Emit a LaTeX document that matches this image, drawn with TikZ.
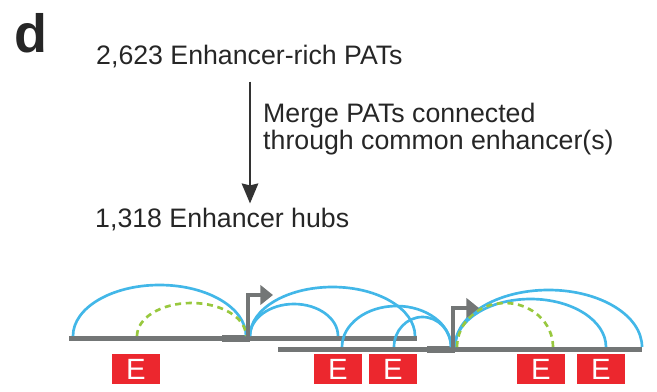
\documentclass[tikz,border=0pt]{standalone}
\usepackage{fontspec}
\setmainfont{Liberation Sans}
\usepackage{xcolor}
\usetikzlibrary{arrows.meta}

\definecolor{hubgray}{RGB}{115,118,118}
\definecolor{loopblue}{RGB}{66,183,232}
\definecolor{ghostgreen}{RGB}{152,200,62}
\definecolor{enhred}{RGB}{236,39,46}

\begin{document}
\begin{tikzpicture}[x=0.03cm,y=-0.03cm,
  txt/.style={inner sep=0pt,anchor=base west,text=black!85,font=\fontsize{22.8}{26}\selectfont},
  ebox/.style={fill=enhred,text=white,minimum width=1.44cm,minimum height=0.9cm,inner sep=0pt,font=\fontsize{25}{25}\selectfont},
  track/.style={hubgray,line width=0.15cm},
  loop/.style={loopblue,line width=0.08cm},
  ghost/.style={ghostgreen,line width=0.08cm,dash pattern=on 0.18cm off 0.14cm},
  tss/.style={hubgray,line width=0.13cm,-{Triangle[length=0.38cm,width=0.58cm]}}]
  % Panel (d): merging PATs into enhancer hubs.
  \useasboundingbox (0,0) rectangle (657,391);

  \node[txt,font=\fontsize{46}{46}\selectfont\bfseries] (panel) at (14,52) {d};
  \node[txt] (rich)   at (96,64)  {2,623 Enhancer-rich PATs};
  \node[txt] (merge1) at (263,122) {Merge PATs connected};
  \node[txt] (merge2) at (263,149) {through common enhancer(s)};
  \node[txt] (hubs)   at (95,227) {1,318 Enhancer hubs};

  \coordinate (ax) at (250,0);
  \draw[line width=0.045cm,black!80,-{Stealth[length=0.6cm,width=0.5cm,inset=0.06cm]},
        shorten <=0.42cm,shorten >=0.12cm] (rich.south -| ax) -- (hubs.north -| ax);

  % two overlapping loci
  \draw[track] (69,338) -- (417,338);
  \draw[track] (278,349) -- (642,349);
  \fill[hubgray] (222,335) rectangle (250,341.5);
  \fill[hubgray] (427,346) rectangle (455,352.5);

  \draw[loop]  (73,336)  arc[start angle=180,end angle=360,x radius=86.5,y radius=51];
  \draw[ghost] (137,336) arc[start angle=180,end angle=360,x radius=54.5,y radius=33];
  \draw[loop]  (250,336) arc[start angle=180,end angle=360,x radius=82.5,y radius=49];
  \draw[loop]  (250,336) arc[start angle=180,end angle=360,x radius=44,y radius=32];

  \draw[loop]  (342,347) arc[start angle=180,end angle=360,x radius=54.5,y radius=41];
  \draw[loop]  (394,347) arc[start angle=180,end angle=360,x radius=28.5,y radius=30];
  \draw[loop]  (455,347) arc[start angle=180,end angle=360,x radius=93.5,y radius=57];
  \draw[loop]  (455,347) arc[start angle=180,end angle=360,x radius=75.5,y radius=48];
  \draw[ghost] (457,347) arc[start angle=180,end angle=360,x radius=48,y radius=44];

  \draw[tss] (248,338) |- (273,295);
  \draw[tss] (453,349) |- (479,308);

  \node[ebox] (e1) at (136,369) {E};
  \node[ebox] (e2) at (338,369) {E};
  \node[ebox] (e3) at (393,369) {E};
  \node[ebox] (e4) at (541,369) {E};
  \node[ebox] (e5) at (601,369) {E};
\end{tikzpicture}
\end{document}
